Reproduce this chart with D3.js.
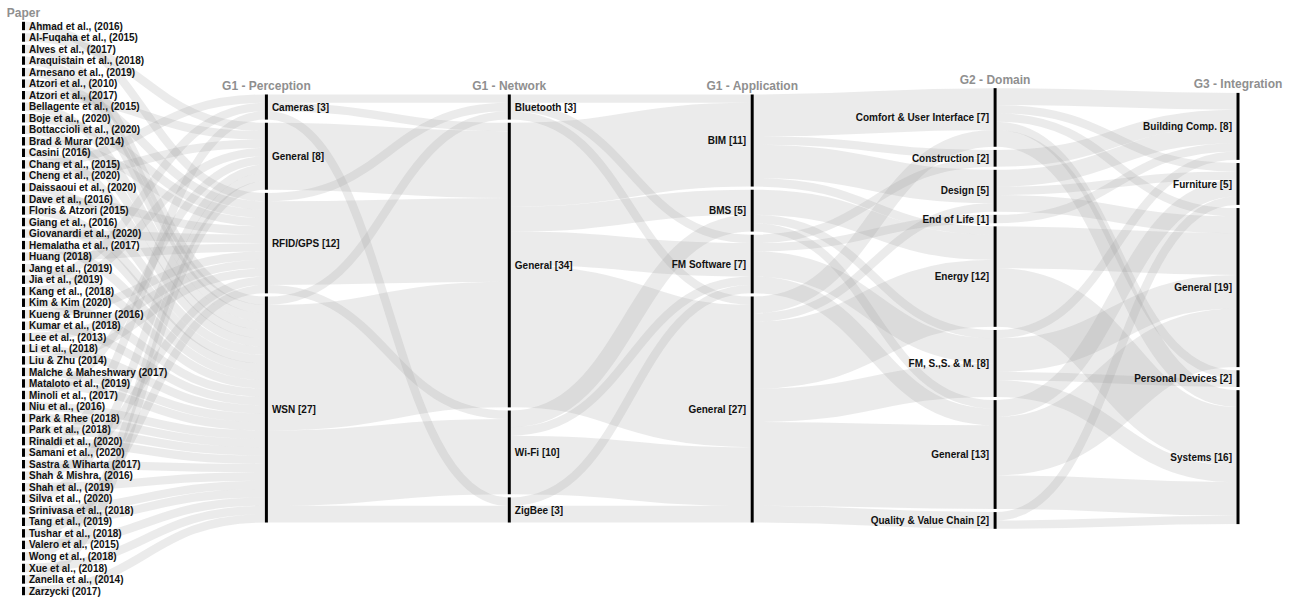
<!DOCTYPE html>
<html><head><meta charset="utf-8">
<script src="https://cdn.jsdelivr.net/npm/d3@7"></script>
<style>
body{margin:0;background:#fff;}
text{font-family:"Liberation Sans",Arial,Helvetica,sans-serif;}
</style>
</head><body>
<svg id="chart" width="1291" height="599"></svg>
<script>
// ---------------- DATA ----------------
const dimensions = ["Paper","G1 - Perception","G1 - Network","G1 - Application","G2 - Domain","G3 - Integration"];

const papers = ["Ahmad et al., (2016)","Al-Fuqaha et al., (2015)","Alves et al., (2017)","Araquistain et al., (2018)","Arnesano et al., (2019)","Atzori et al., (2010)","Atzori et al., (2017)","Bellagente et al., (2015)","Boje et al., (2020)","Bottaccioli et al., (2020)","Brad & Murar (2014)","Casini (2016)","Chang et al., (2015)","Cheng et al., (2020)","Daissaoui et al., (2020)","Dave et al., (2016)","Floris & Atzori (2015)","Giang et al., (2016)","Giovanardi et al., (2020)","Hemalatha et al., (2017)","Huang (2018)","Jang et al., (2019)","Jia et al., (2019)","Kang et al., (2018)","Kim & Kim (2020)","Kueng & Brunner (2016)","Kumar et al., (2018)","Lee et al., (2013)","Li et al., (2018)","Liu & Zhu (2014)","Malche & Maheshwary (2017)","Mataloto et al., (2019)","Minoli et al., (2017)","Niu et al., (2016)","Park & Rhee (2018)","Park et al., (2018)","Rinaldi et al., (2020)","Samani et al., (2020)","Sastra & Wiharta (2017)","Shah & Mishra, (2016)","Shah et al., (2019)","Silva et al., (2020)","Srinivasa et al., (2018)","Tang et al., (2019)","Tushar et al., (2018)","Valero et al., (2015)","Wong et al., (2018)","Xue et al., (2018)","Zanella et al., (2014)","Zarzycki (2017)"];

// Perception category of each paper (same order as papers)
const paperPerception = ["RFID/GPS","General","WSN","WSN","WSN","RFID/GPS","General","WSN","RFID/GPS","WSN","RFID/GPS","WSN","Cameras","General","WSN","RFID/GPS","WSN","WSN","RFID/GPS","WSN","RFID/GPS","WSN","Cameras","General","WSN","RFID/GPS","WSN","RFID/GPS","WSN","RFID/GPS","WSN","WSN","General","WSN","WSN","WSN","WSN","Cameras","WSN","RFID/GPS","WSN","General","WSN","WSN","RFID/GPS","WSN","General","WSN","General","WSN"];

const perceptionCats = ["Cameras","General","RFID/GPS","WSN"];
const networkCats = ["Bluetooth","General","Wi-Fi","ZigBee"];
const applicationCats = ["BIM","BMS","FM Software","General"];
const domainCats = ["Comfort & User Interface","Construction","Design","End of Life","Energy","FM, S.,S. & M.","General","Quality & Value Chain"];
const integrationCats = ["Building Comp.","Furniture","General","Personal Devices","Systems"];

// flows between adjacent dimensions: [source category, target category, number of papers]
const perceptionToNetwork = [
  ["Cameras","Bluetooth",1],["Cameras","General",1],["Cameras","ZigBee",1],
  ["General","General",8],
  ["RFID/GPS","Bluetooth",1],["RFID/GPS","General",10],["RFID/GPS","Wi-Fi",1],
  ["WSN","Bluetooth",1],["WSN","General",15],["WSN","Wi-Fi",9],["WSN","ZigBee",2]
];
const networkToApplication = [
  ["Bluetooth","BIM",1],["Bluetooth","FM Software",1],["Bluetooth","General",1],
  ["General","BIM",10],["General","BMS",3],["General","FM Software",4],["General","General",17],
  ["Wi-Fi","BMS",2],["Wi-Fi","FM Software",1],["Wi-Fi","General",7],
  ["ZigBee","FM Software",1],["ZigBee","General",2]
];
const applicationToDomain = [
  ["BIM","Comfort & User Interface",5],["BIM","Construction",1],["BIM","Design",4],["BIM","Energy",1],
  ["BMS","Energy",3],["BMS","FM, S.,S. & M.",1],["BMS","General",1],
  ["FM Software","Construction",1],["FM Software","End of Life",1],["FM Software","FM, S.,S. & M.",3],["FM Software","General",2],
  ["General","Comfort & User Interface",2],["General","Design",1],["General","Energy",8],["General","FM, S.,S. & M.",4],["General","General",10],["General","Quality & Value Chain",2]
];
const domainToIntegration = [
  ["Comfort & User Interface","Building Comp.",2],["Comfort & User Interface","Furniture",1],["Comfort & User Interface","General",1],["Comfort & User Interface","Personal Devices",1],["Comfort & User Interface","Systems",2],
  ["Construction","Building Comp.",2],
  ["Design","Building Comp.",2],["Design","Furniture",1],["Design","General",2],
  ["End of Life","Building Comp.",1],
  ["Energy","General",5],["Energy","Systems",7],
  ["FM, S.,S. & M.","Building Comp.",1],["FM, S.,S. & M.","General",4],["FM, S.,S. & M.","Personal Devices",1],["FM, S.,S. & M.","Systems",2],
  ["General","Furniture",2],["General","General",7],["General","Systems",4],
  ["Quality & Value Chain","Furniture",1],["Quality & Value Chain","Systems",1]
];

// ---------------- LAYOUT ----------------
const svg = d3.select("#chart");
const x = d3.scalePoint().domain(dimensions).range([23.5, 1238]);
const total = papers.length;
const pad = 3.16;
const yTop = 21.8, yBottom = 595.2, midY = (yTop + yBottom) / 2;
const unitH = ((yBottom - yTop) - (total - 1) * pad) / total;
const h = d3.scaleLinear().domain([0, total]).range([0, total * unitH]);

const catLists = [papers, perceptionCats, networkCats, applicationCats, domainCats, integrationCats];
const flows = [
  papers.map((p, i) => [p, paperPerception[i], 1]),
  perceptionToNetwork, networkToApplication, applicationToDomain, domainToIntegration
];

const columns = catLists.map((cats, ci) => cats.map(name => ({name, col: ci, value: 0, out: [], inc: []})));
const links = [];
flows.forEach((fl, si) => {
  fl.forEach(([s, t, v]) => {
    const sn = columns[si].find(n => n.name === s);
    const tn = columns[si + 1].find(n => n.name === t);
    const l = {source: sn, target: tn, value: v};
    sn.out.push(l); tn.inc.push(l); links.push(l);
  });
});
columns.forEach(col => col.forEach(n => {
  n.value = Math.max(d3.sum(n.out, l => l.value), d3.sum(n.inc, l => l.value));
}));
columns.forEach(col => {
  const tot = h(d3.sum(col, n => n.value)) + (col.length - 1) * pad;
  let y = midY - tot / 2;
  col.forEach(n => { n.y0 = y; n.y1 = y + h(n.value); y = n.y1 + pad; n.x = x(dimensions[n.col]); });
});
columns.forEach(col => col.forEach(n => {
  n.out.sort((a, b) => a.target.y0 - b.target.y0);
  n.inc.sort((a, b) => a.source.y0 - b.source.y0);
  let y = n.y0;
  n.out.forEach(l => { l.w = h(l.value); l.sy = y + l.w / 2; y += l.w; });
  y = n.y0;
  n.inc.forEach(l => { l.ty = y + h(l.value) / 2; y += h(l.value); });
}));

const barW = 3;
const linkGen = d3.linkHorizontal();

svg.append("g").selectAll("path").data(links).join("path")
  .attr("d", l => linkGen({source: [l.source.x + barW / 2, l.sy], target: [l.target.x - barW / 2, l.ty]}))
  .attr("fill", "none")
  .attr("stroke", "#999")
  .attr("stroke-opacity", 0.2)
  .attr("stroke-width", l => l.w);

const allNodes = columns.flat();
svg.append("g").selectAll("rect").data(allNodes).join("rect")
  .attr("x", n => n.x - barW / 2)
  .attr("y", n => n.y0)
  .attr("width", barW)
  .attr("height", n => n.y1 - n.y0)
  .attr("fill", "#000");

const leftSide = c => c >= 3;
svg.append("g").selectAll("text").data(allNodes).join("text")
  .attr("x", n => leftSide(n.col) ? n.x - 6 : n.x + 5.5)
  .attr("y", n => (n.y0 + n.y1) / 2)
  .attr("dy", "0.36em")
  .attr("text-anchor", n => leftSide(n.col) ? "end" : "start")
  .attr("font-size", 10)
  .attr("font-weight", "bold")
  .attr("fill", "#111")
  .text(n => n.col === 0 ? n.name : `${n.name} [${n.value}]`);

svg.append("g").selectAll("text").data(dimensions).join("text")
  .attr("x", d => x(d))
  .attr("y", (d, i) => columns[i][0].y0 - 4.5)
  .attr("text-anchor", "middle")
  .attr("font-size", 12)
  .attr("font-weight", "bold")
  .attr("fill", "#8f8f8f")
  .text(d => d);
</script>
</body></html>
